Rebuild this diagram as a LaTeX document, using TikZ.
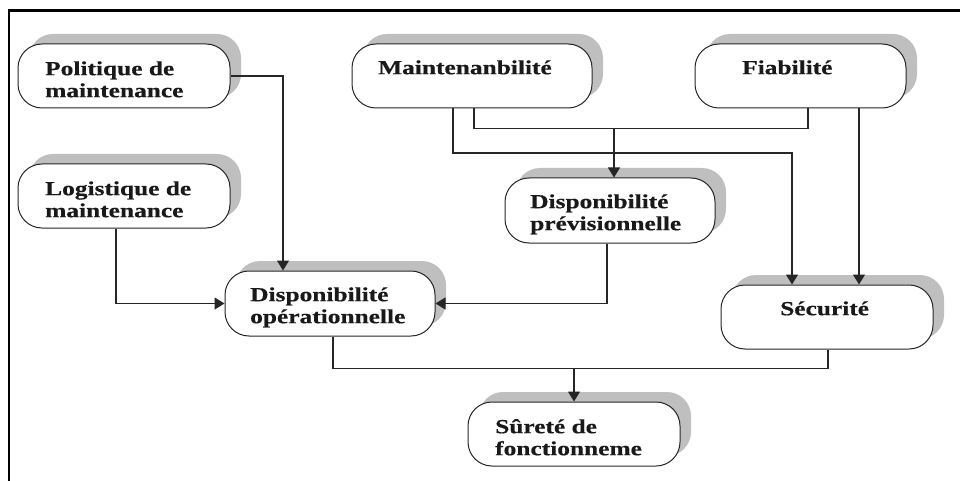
\documentclass[tikz,border=0pt]{standalone}
\usepackage{fontspec}
\setmainfont{Liberation Serif}[FakeStretch=1.27,FakeBold=0.4]
\usetikzlibrary{shadows,arrows.meta,calc}
\begin{document}
\begin{tikzpicture}[x=1pt,y=-1pt,
  box/.style={draw=black!85, line width=1pt, fill=white, rounded corners=24pt,
    minimum width=212pt, minimum height=64pt, inner sep=0pt,
    general shadow={fill=black!25, shadow xshift=11pt, shadow yshift=10pt}},
  lbl/.style={anchor=north west, inner sep=0pt, align=left,
    font=\bfseries\fontsize{20}{22}\selectfont, text=black!90},
  conn/.style={draw=black!85, line width=1.2pt},
  arr/.style={conn, -{Triangle[length=10pt,width=12pt]}}]
\useasboundingbox (0,0) rectangle (960,481);
% frame
\draw[line width=2.6pt] (9,481) -- (9,10.5) -- (960,10.5);
% boxes
\node[box] (pol) at (124,76) {};
\node[box, minimum width=240pt] (mai) at (472,76) {};
\node[box, minimum width=211pt] (fia) at (800.5,76) {};
\node[box] (log) at (124,196) {};
\node[box, minimum width=210pt, minimum height=65pt] (dpr) at (610,210.5) {};
\node[box, minimum width=210pt, minimum height=65pt] (dop) at (330,303.5) {};
\node[box] (sec) at (827,317) {};
\node[box] (sur) at (574,434) {};
% texts
\node[lbl] (polt) at (45,59.6) {\strut Politique de\\\strut maintenance};
\node[lbl] (logt) at (45,179.6) {\strut Logistique de\\\strut maintenance};
\node[lbl] (mait) at (378,58.6) {\strut Maintenanbilité};
\node[lbl] (fiat) at (742,58.6) {\strut Fiabilité};
\node[lbl] (dprt) at (530,192.6) {\strut Disponibilité\\\strut prévisionnelle};
\node[lbl] (dopt) at (250,285.6) {\strut Disponibilité\\\strut opérationnelle};
\node[lbl] (sect) at (780,299.6) {\strut Sécurité};
\node[lbl] (surt) at (495,417.6) {\strut Sûreté de\\\strut fonctionneme};
% junctions
\coordinate (j1) at (614,128);
\coordinate (j2) at (792,153);
\coordinate (j3) at (574,368);
% connectors
\draw[arr] (pol.east) -| ([xshift=-47pt]dop.north);
\draw[arr] ([xshift=-8pt]log.south) |- (dop.west);
\draw[arr] ([xshift=-3pt]dpr.south) |- (dop.east);
\draw[conn] ([xshift=2pt]mai.south) |- ([xshift=7.5pt,yshift=-20pt]fia.south) -- ([xshift=7.5pt]fia.south);
\draw[arr] (j1) -- (j1 |- dpr.north);
\draw[arr] ([xshift=-19pt]mai.south) |- (j2) -- (j2 |- sec.north);
\draw[arr] ([xshift=58.5pt]fia.south) -- ([xshift=32pt]sec.north);
\draw[conn] ([xshift=3pt]dop.south) |- ([xshift=1pt,yshift=-19pt]sec.south) -- ([xshift=1pt]sec.south);
\draw[arr] (j3) -- (sur.north);
\end{tikzpicture}
\end{document}
